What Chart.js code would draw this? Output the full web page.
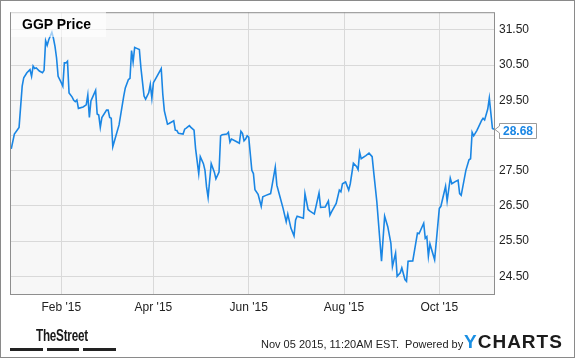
<!DOCTYPE html>
<html>
<head>
<meta charset="utf-8">
<script src="https://cdn.jsdelivr.net/npm/chart.js@4.4.1/dist/chart.umd.min.js"></script>
<style>
  html, body { margin: 0; padding: 0; background: #fff; }
  #wrap { position: relative; width: 575px; height: 358px; font-family: 'Liberation Sans', Arial, sans-serif; overflow: hidden; }
  #chart { position: absolute; left: 0; top: 0; }
  .abs { position: absolute; white-space: nowrap; line-height: 1; }
  #titleBox { position: absolute; left: 11px; top: 11px; width: 95px; height: 26px; background: rgba(255,255,255,0.6); }
  #title { left: 11px; top: 5.5px; font-size: 14px; font-weight: bold; color: #000; }
  #street { left: 36px; top: 327.5px; font-size: 16px; font-weight: bold; color: #1a1a1a; transform: scaleX(0.73); transform-origin: left top; letter-spacing: -0.3px; }
  .bar { position: absolute; top: 348px; height: 3px; background: #222; }
  #stamp { left: 261px; top: 338.7px; font-size: 11px; color: #222; }
  #ycharts { left: 464px; top: 332px; font-size: 19px; font-weight: bold; color: #1c1c1c; letter-spacing: 1px; }
  #ycharts b { color: #1a8fe3; }
</style>
</head>
<body>
<div id="wrap">
  <canvas id="chart" width="575" height="358"></canvas>
  <div id="titleBox"><span id="title" class="abs">GGP Price</span></div>
  <span id="street" class="abs">TheStreet</span>
  <div class="bar" style="left:10px;width:33px"></div>
  <div class="bar" style="left:47px;width:32px"></div>
  <div class="bar" style="left:83px;width:33px"></div>
  <span id="stamp" class="abs">Nov 05 2015, 11:20AM EST.&nbsp; Powered by</span>
  <span id="ycharts" class="abs"><b>Y</b>CHARTS</span>
</div>
<script>
const dates = [
  '2014-12-31', '2015-01-02', '2015-01-05', '2015-01-07', '2015-01-08', '2015-01-10', '2015-01-12', '2015-01-13',
  '2015-01-14', '2015-01-15', '2015-01-16', '2015-01-18', '2015-01-20', '2015-01-21', '2015-01-22', '2015-01-23',
  '2015-01-24', '2015-01-26', '2015-01-27', '2015-01-28', '2015-01-29', '2015-01-30', '2015-02-01', '2015-02-02',
  '2015-02-03', '2015-02-04', '2015-02-05', '2015-02-06', '2015-02-08', '2015-02-09', '2015-02-10', '2015-02-11',
  '2015-02-12', '2015-02-15', '2015-02-17', '2015-02-18', '2015-02-19', '2015-02-20', '2015-02-23', '2015-02-24',
  '2015-02-25', '2015-02-26', '2015-02-27', '2015-03-02', '2015-03-03', '2015-03-04', '2015-03-05', '2015-03-06',
  '2015-03-08', '2015-03-10', '2015-03-13', '2015-03-14', '2015-03-16', '2015-03-17', '2015-03-18', '2015-03-19',
  '2015-03-20', '2015-03-21', '2015-03-23', '2015-03-24', '2015-03-26', '2015-03-27', '2015-03-29', '2015-03-30',
  '2015-03-31', '2015-04-01', '2015-04-03', '2015-04-06', '2015-04-07', '2015-04-08', '2015-04-10', '2015-04-11',
  '2015-04-14', '2015-04-15', '2015-04-16', '2015-04-17', '2015-04-20', '2015-04-21', '2015-04-22', '2015-04-24',
  '2015-04-25', '2015-04-27', '2015-04-28', '2015-04-30', '2015-05-01', '2015-05-03', '2015-05-04', '2015-05-05',
  '2015-05-06', '2015-05-07', '2015-05-08', '2015-05-10', '2015-05-11', '2015-05-13', '2015-05-14', '2015-05-15',
  '2015-05-18', '2015-05-19', '2015-05-20', '2015-05-21', '2015-05-24', '2015-05-26', '2015-05-27', '2015-05-28',
  '2015-05-29', '2015-05-30', '2015-05-31', '2015-06-01', '2015-06-03', '2015-06-04', '2015-06-05', '2015-06-07',
  '2015-06-09', '2015-06-10', '2015-06-12', '2015-06-15', '2015-06-16', '2015-06-18', '2015-06-19', '2015-06-21',
  '2015-06-23', '2015-06-25', '2015-06-26', '2015-06-28', '2015-06-30', '2015-07-01', '2015-07-02', '2015-07-06',
  '2015-07-07', '2015-07-09', '2015-07-10', '2015-07-13', '2015-07-16', '2015-07-17', '2015-07-20', '2015-07-22',
  '2015-07-23', '2015-07-24', '2015-07-27', '2015-07-29', '2015-07-30', '2015-07-31', '2015-08-02', '2015-08-04',
  '2015-08-05', '2015-08-07', '2015-08-09', '2015-08-10', '2015-08-11', '2015-08-12', '2015-08-15', '2015-08-17',
  '2015-08-19', '2015-08-20', '2015-08-22', '2015-08-25', '2015-08-27', '2015-08-29', '2015-08-31', '2015-09-01',
  '2015-09-03', '2015-09-04', '2015-09-06', '2015-09-07', '2015-09-09', '2015-09-10', '2015-09-11', '2015-09-14',
  '2015-09-17', '2015-09-18', '2015-09-21', '2015-09-22', '2015-09-23', '2015-09-24', '2015-09-25', '2015-09-28',
  '2015-10-01', '2015-10-02', '2015-10-05', '2015-10-06', '2015-10-08', '2015-10-09', '2015-10-12', '2015-10-13',
  '2015-10-14', '2015-10-15', '2015-10-18', '2015-10-20', '2015-10-21', '2015-10-22', '2015-10-23', '2015-10-25',
  '2015-10-26', '2015-10-28', '2015-10-29', '2015-10-30', '2015-11-01', '2015-11-02', '2015-11-04', '2015-11-05'
];

const prices = [
  28.12, 28.54, 28.73, 29.90, 30.14, 30.28, 30.37, 30.18,
  30.47, 30.40, 30.42, 30.33, 30.28, 30.35, 31.19, 31.06,
  31.22, 31.43, 31.26, 31.03, 30.70, 30.18, 30.00, 29.90,
  30.56, 30.56, 30.61, 29.71, 29.59, 29.50, 29.46, 29.51,
  29.27, 29.31, 29.37, 29.65, 29.01, 29.48, 29.78, 29.11,
  29.08, 28.73, 29.01, 29.22, 29.22, 29.01, 28.99, 28.18,
  28.49, 28.80, 29.62, 29.85, 30.09, 30.12, 30.91, 30.59,
  31.00, 30.98, 30.94, 30.42, 29.62, 29.53, 29.71, 29.95,
  29.56, 30.00, 30.16, 30.40, 29.67, 29.20, 28.82, 28.84,
  28.92, 28.65, 28.64, 28.56, 28.54, 28.68, 28.71, 28.78,
  28.73, 28.65, 28.12, 27.42, 27.90, 27.70, 27.51, 27.04,
  26.74, 27.23, 27.70, 27.46, 27.27, 27.46, 28.49, 28.52,
  28.54, 28.59, 28.31, 28.40, 28.33, 28.28, 28.62, 28.56,
  28.35, 28.40, 28.49, 28.45, 27.51, 27.42, 26.96, 26.83,
  26.49, 26.76, 26.80, 26.85, 27.09, 27.60, 27.09, 26.76,
  26.43, 26.05, 26.27, 25.87, 25.65, 26.10, 26.21, 26.15,
  26.85, 26.40, 26.36, 26.27, 26.87, 26.46, 26.47, 26.64,
  26.24, 26.33, 26.57, 26.95, 26.90, 27.13, 27.18, 26.95,
  27.13, 27.71, 27.62, 27.53, 28.02, 27.84, 27.93, 28.00,
  27.90, 27.46, 26.62, 24.93, 26.21, 25.91, 25.44, 24.78,
  25.16, 24.50, 24.60, 24.74, 24.41, 24.36, 24.93, 24.94,
  25.73, 25.71, 26.01, 25.58, 25.63, 25.07, 25.42, 24.97,
  26.43, 26.49, 27.06, 26.64, 27.29, 27.13, 27.21, 27.23,
  26.85, 26.80, 27.51, 27.81, 27.84, 28.59, 28.49, 28.64,
  28.73, 28.92, 28.99, 28.94, 29.25, 29.56, 28.70, 28.68
];

const xTickDates = ['2015-02-01', '2015-04-01', '2015-06-01', '2015-08-01', '2015-10-01'];
const xTickLabels = ["Feb '15", "Apr '15", "Jun '15", "Aug '15", "Oct '15"];
const yTicks = [24.5, 25.5, 26.5, 27.5, 28.5, 29.5, 30.5, 31.5];

const lineColor = '#1a86e4';
const fontFamily = "'Liberation Sans', Arial, sans-serif";

// days counted from 2014-12-31
function dayNum(s) {
  const [y, m, d] = s.split('-').map(Number);
  return (Date.UTC(y, m - 1, d) - Date.UTC(2014, 11, 31)) / 86400000;
}

const framePlugin = {
  id: 'frame',
  beforeDraw(chart) {
    const { ctx, chartArea: a } = chart;
    ctx.save();
    ctx.fillStyle = '#f7f7f7';
    ctx.fillRect(a.left, a.top, a.right - a.left, a.bottom - a.top);
    ctx.restore();
  },
  afterDraw(chart) {
    const { ctx, chartArea: a, scales } = chart;
    ctx.save();
    ctx.lineWidth = 1;
    ctx.strokeStyle = '#8e8e8e';
    ctx.strokeRect(a.left + 0.5, a.top + 0.5, a.right - a.left, a.bottom - a.top);
    ctx.strokeStyle = '#8a8a8a';
    ctx.strokeRect(0.5, 0.5, chart.width - 1, chart.height - 1);

    // last price tag
    const last = prices[prices.length - 1];
    const yv = Math.round(scales.y.getPixelForValue(last)) + 0.5;
    const bx = a.right + 5.5;
    const bw = 37;
    const top = yv - 6;
    const bot = yv + 9;
    ctx.beginPath();
    ctx.moveTo(bx, top);
    ctx.lineTo(bx + bw, top);
    ctx.lineTo(bx + bw, bot);
    ctx.lineTo(bx, bot);
    ctx.lineTo(bx, yv + 3.5);
    ctx.lineTo(a.right + 1, yv);
    ctx.lineTo(bx, yv - 3.5);
    ctx.closePath();
    ctx.fillStyle = '#fff';
    ctx.fill();
    ctx.strokeStyle = '#9a9a9a';
    ctx.stroke();
    ctx.fillStyle = lineColor;
    ctx.font = 'bold 12px ' + fontFamily;
    ctx.textAlign = 'center';
    ctx.textBaseline = 'middle';
    ctx.fillText(last.toFixed(2), bx + bw / 2, (top + bot) / 2 + 0.5);
    ctx.restore();
  }
};

Chart.defaults.font.family = fontFamily;
Chart.defaults.font.size = 12;
Chart.defaults.color = '#222';

new Chart(document.getElementById('chart'), {
  type: 'line',
  data: {
    datasets: [{
      label: 'GGP Price',
      data: dates.map((d, i) => ({ x: dayNum(d), y: prices[i] })),
      borderColor: lineColor,
      borderWidth: 1.6,
      pointRadius: 0,
      tension: 0,
      fill: false
    }]
  },
  options: {
    responsive: false,
    animation: false,
    events: [],
    layout: { padding: { left: 10, top: 10, right: 0, bottom: 0 } },
    plugins: {
      legend: { display: false },
      tooltip: { enabled: false },
      title: { display: false }
    },
    scales: {
      x: {
        type: 'linear',
        min: -0.8,
        max: 309,
        afterBuildTicks: (scale) => { scale.ticks = xTickDates.map(d => ({ value: dayNum(d) })); },
        afterFit: (scale) => { scale.height = 64; },
        ticks: {
          padding: 6,
          maxRotation: 0,
          autoSkip: false,
          callback: (v, i) => xTickLabels[i]
        },
        grid: { color: '#d9d9d9', drawTicks: false },
        border: { display: false }
      },
      y: {
        position: 'right',
        min: 24,
        max: 32,
        afterBuildTicks: (scale) => { scale.ticks = yTicks.map(v => ({ value: v })); },
        afterFit: (scale) => { scale.width = 81; },
        ticks: {
          padding: 5,
          autoSkip: false,
          callback: (v) => v.toFixed(2)
        },
        grid: { color: '#d9d9d9', drawTicks: false },
        border: { display: false }
      }
    }
  },
  plugins: [framePlugin]
});
</script>
</body>
</html>
